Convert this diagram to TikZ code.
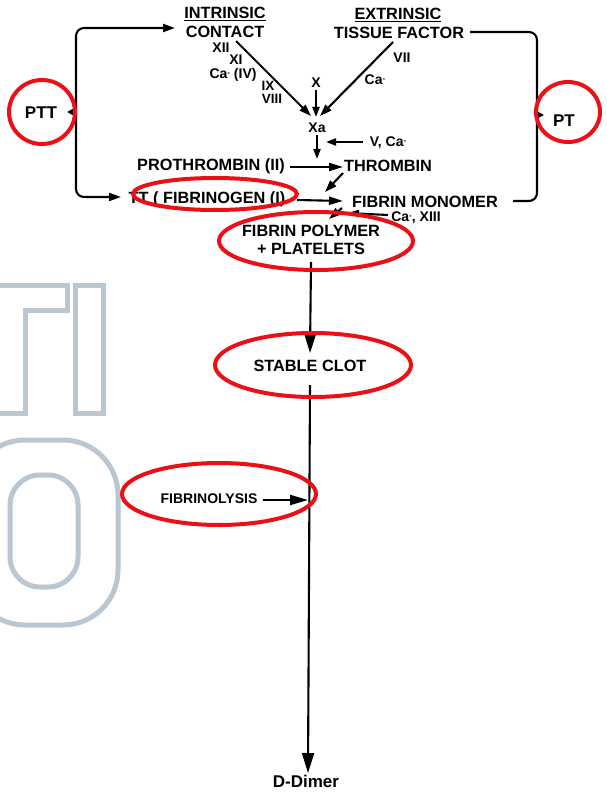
\documentclass[tikz,border=0pt]{standalone}
\usepackage{fontspec}
\setmainfont{Liberation Sans}
\usetikzlibrary{arrows.meta}
\definecolor{markred}{RGB}{234,16,22}
\definecolor{wm}{RGB}{186,198,209}
\newcommand{\cadot}{Ca\raisebox{0.45ex}{\fontsize{8}{8}\selectfont -}}
\begin{document}
\begin{tikzpicture}[x=1pt,y=-1pt,
  lab/.style={inner sep=0pt, text height=11pt, text depth=0pt, font=\fontsize{16.3}{18}\selectfont\bfseries},
  sm/.style={inner sep=0pt, text height=9.7pt, text depth=0pt, font=\fontsize{14}{15}\selectfont\bfseries},
  ln/.style={line width=2.1pt},
  arr/.style={ln,-{Triangle[length=12pt,width=8pt]}},
  bigarr/.style={ln,-{Triangle[length=20pt,width=12pt]}},
  circ/.style={draw=markred,line width=4pt},
  wmark/.style={draw=wm,line width=5pt}]
\useasboundingbox (0,0) rectangle (606,799);
\clip (0,0) rectangle (606,799);
\fill[white] (0,0) rectangle (606,799);
% watermark
\draw[wmark] (-5,285) -- (67,285) -- (67,310) -- (25,310) -- (25,413) -- (-5,413);
\draw[wmark] (75,285) rectangle (103,413);
\draw[wmark, rounded corners=55pt] (-30,440) rectangle (118,625);
\draw[wmark, rounded corners=30pt] (10,475) rectangle (78,587);
% labels
\node[lab] (intr) at (225,13) {\underline{INTRINSIC}};
\node[lab] (contact) at (225,32) {CONTACT};
\node[sm] (xii) at (221,48) {XII};
\node[sm] (xi) at (236,60) {XI};
\node[sm] (ca4) at (233,74) {\cadot{} (IV)};
\node[sm, font=\fontsize{13.5}{15}\selectfont\bfseries] (ix) at (268,85.5) {IX};
\node[sm, font=\fontsize{13.5}{15}\selectfont\bfseries] (viii) at (272,98.5) {VIII};
\node[lab] (extr) at (398,14) {\underline{EXTRINSIC}};
\node[lab] (tissue) at (399,33) {TISSUE FACTOR};
\node[sm] (vii) at (402,58) {VII};
\node[sm] (cae) at (375,80) {\cadot};
\node[sm] (xl) at (316,83) {X};
\node[sm] (xa) at (317,128) {Xa};
\node[sm] (vca) at (388,142) {V, \cadot};
\node[lab] (proth) at (211,165) {PROTHROMBIN (II)};
\node[lab] (thromb) at (388,166) {THROMBIN};
\node[lab] (fibg) at (207,198) {TT ( FIBRINOGEN (I)};
\node[lab] (mono) at (425,202) {FIBRIN MONOMER};
\node[sm] (ca13) at (416,217) {\cadot, XIII};
\node[inner sep=0pt, align=center, font=\fontsize{16.3}{18}\selectfont\bfseries] (poly) at (311,240) {FIBRIN POLYMER\\+ PLATELETS};
\node[lab] (stable) at (310,366) {STABLE CLOT};
\node[sm] (fibl) at (209,499) {FIBRINOLYSIS};
\node[lab, font=\fontsize{17}{18}\selectfont\bfseries] (dd) at (306,782) {D-Dimer};
\node[lab, font=\fontsize{17}{18}\selectfont\bfseries] (ptt) at (41,113) {PTT};
\node[lab, font=\fontsize{17}{18}\selectfont\bfseries] (pt) at (564,121) {PT};
% connector end points
\coordinate (iS) at (236,41); \coordinate (iE) at (311,116);
\coordinate (eS) at (393,42); \coordinate (eE) at (320,116);
\coordinate (xS) at (316,90); \coordinate (xE) at (316,117);
\coordinate (xaS) at (317,135); \coordinate (xaE) at (317,159);
\coordinate (vS) at (363,142); \coordinate (vE) at (326,142);
\coordinate (pS) at (290,167); \coordinate (pE) at (343,167);
\coordinate (tS) at (343,173); \coordinate (tE) at (325,192);
\coordinate (fS) at (297,200); \coordinate (fE) at (343,201);
\coordinate (mS) at (342,208); \coordinate (mE) at (329,219);
\coordinate (cS) at (388,215); \coordinate (cE) at (347,213);
\coordinate (polyS) at (311,262); \coordinate (stE) at (310,353);
\coordinate (stS) at (310,385); \coordinate (ddE) at (308,773);
\coordinate (flS) at (263,500); \coordinate (flE) at (308,500);
\coordinate (lJ) at (76,112); \coordinate (lT) at (67,112);
\coordinate (lTop) at (175,28); \coordinate (lBot) at (121,197);
\coordinate (rS) at (470,32); \coordinate (rE) at (513,201);
\coordinate (rJ) at (537,115); \coordinate (rT) at (544,115);
% connectors
\draw[arr] (iS) -- (iE);
\draw[arr] (eS) -- (eE);
\draw[ln,-{Triangle[length=10pt,width=7pt]}] (xS) -- (xE);
\draw[ln,-{Triangle[length=10pt,width=7pt]}] (xaS) -- (xaE);
\draw[ln,-{Triangle[length=10pt,width=7pt]}] (vS) -- (vE);
\draw[ln,-{Triangle[length=14pt,width=8pt]}] (pS) -- (pE);
\draw[arr] (tS) -- (tE);
\draw[ln,-{Triangle[length=14pt,width=8pt]}] (fS) -- (fE);
\draw[arr] (mS) -- (mE);
\draw[ln,-{Triangle[length=12pt,width=7pt]}] (cS) -- (cE);
\draw[bigarr] (polyS) -- (stE);
\draw[bigarr] (stS) -- (ddE);
\draw[ln,-{Triangle[length=18pt,width=10pt]}] (flS) -- (flE);
\draw[arr, rounded corners=8pt] (lJ) -- (76,28) -- (lTop);
\draw[arr, rounded corners=8pt] (lJ) -- (76,197) -- (lBot);
\draw[ln,-{Triangle[length=7pt,width=7pt]}] (lJ) -- (lT);
\draw[ln, rounded corners=8pt] (rS) -- (537,32) -- (537,201) -- (rE);
\draw[ln,-{Triangle[length=7pt,width=7pt]}] (rJ) -- (rT);
% red marks
\draw[circ] (ptt) ++(1,-1) ellipse [x radius=33, y radius=32];
\draw[circ] (pt) ++(4,-9) ellipse [x radius=32, y radius=30];
\draw[circ] (215,194) ellipse [x radius=82, y radius=16];
\draw[circ] (316,241) ellipse [x radius=97, y radius=29];
\draw[circ] (313,365) ellipse [x radius=98, y radius=32];
\draw[circ] (219,494) ellipse [x radius=97, y radius=31];
\end{tikzpicture}
\end{document}
